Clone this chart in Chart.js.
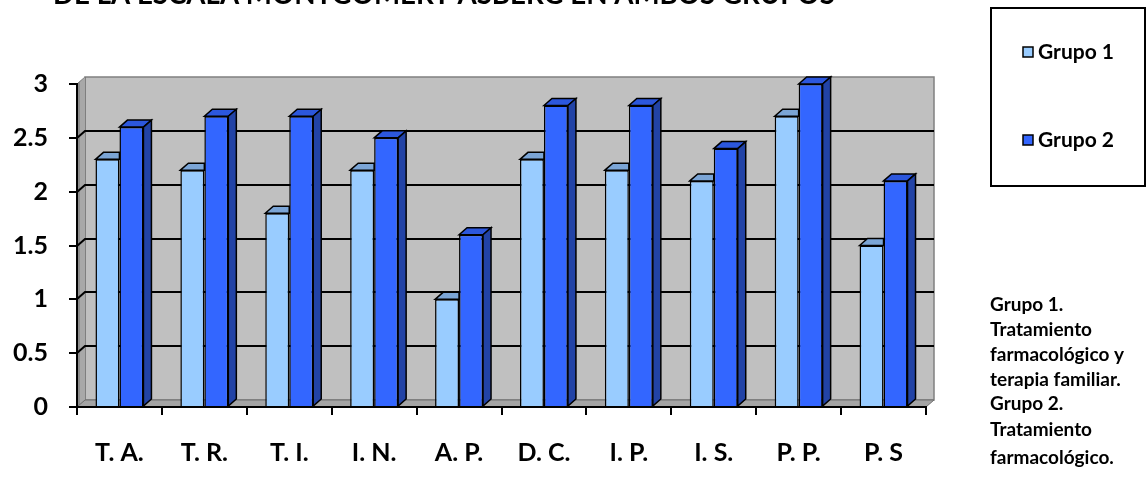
<!DOCTYPE html>
<html>
<head>
<meta charset="utf-8">
<script src="https://cdn.jsdelivr.net/npm/chart.js@4/dist/chart.umd.min.js"></script>
<style>
  html, body { margin: 0; padding: 0; background: #ffffff; }
  #wrap { width: 1146px; height: 477px; position: relative; }
  canvas { display: block; }
</style>
</head>
<body>
<div id="wrap"><canvas id="chart" width="1146" height="477"></canvas></div>
<script>
// Scores per item of the scale for both groups
const categories = ['T. A.', 'T. R.', 'T. I.', 'I. N.', 'A. P.', 'D. C.', 'I. P.', 'I. S.', 'P. P.', 'P. S'];
const grupo1 = [2.3, 2.2, 1.8, 2.2, 1.0, 2.3, 2.2, 2.1, 2.7, 1.5];
const grupo2 = [2.6, 2.7, 2.7, 2.5, 1.6, 2.8, 2.8, 2.4, 3.0, 2.1];
const seriesNames = ['Grupo 1', 'Grupo 2'];
const yTickValues = [0, 0.5, 1, 1.5, 2, 2.5, 3];
const yTickLabels = ['0', '0.5', '1', '1.5', '2', '2.5', '3'];
const titleText = 'DE LA ESCALA MONTGOMERY ASBERG EN AMBOS GRUPOS';
const noteLines = ['Grupo 1.', 'Tratamiento', 'farmacológico y', 'terapia familiar.', 'Grupo 2.', 'Tratamiento', 'farmacológico.'];

// depth of the pseudo-3D box
const DX = 8, DY = 7;
const FONT = 'Lato, "Open Sans", sans-serif';

const faceStyles = [
  { front: '#99CCFF', top: '#7BA5D6', side: '#6C95C8' },
  { front: '#3366FF', top: '#2C57DD', side: '#2243A6' }
];

function poly(ctx, pts, fill, stroke, lw) {
  ctx.beginPath();
  ctx.moveTo(pts[0][0], pts[0][1]);
  for (let i = 1; i < pts.length; i++) ctx.lineTo(pts[i][0], pts[i][1]);
  ctx.closePath();
  if (fill) { ctx.fillStyle = fill; ctx.fill(); }
  if (stroke) { ctx.strokeStyle = stroke; ctx.lineWidth = lw || 1; ctx.lineJoin = 'miter'; ctx.stroke(); }
}

// back wall, side wall, floor and gridlines behind the bars
const wallsPlugin = {
  id: 'walls',
  beforeDraw(chart) {
    const { ctx, chartArea: a, scales: { y } } = chart;
    const L = a.left, R = a.right, T = a.top, B = a.bottom;
    ctx.save();
    ctx.fillStyle = '#C0C0C0';
    ctx.fillRect(L + DX, T - DY, R - L, B - T);
    ctx.strokeStyle = '#808080';
    ctx.lineWidth = 1.5;
    ctx.strokeRect(L + DX, T - DY, R - L, B - T);
    poly(ctx, [[L, T], [L + DX, T - DY], [L + DX, B - DY], [L, B]], '#8C8C8C', '#6E6E6E', 1);
    poly(ctx, [[L + 3, T - 2], [L + DX, T - DY], [L + DX, B - DY], [L + 3, B - 3]], '#A8A8A8', null);
    poly(ctx, [[L, B], [L + DX, B - DY], [R + DX, B - DY], [R, B]], '#A4A4A4', '#6E6E6E', 1);
    ctx.strokeStyle = '#000000';
    ctx.lineWidth = 2;
    yTickValues.forEach(v => {
      if (v <= y.min || v >= y.max) return;
      const yy = Math.round(y.getPixelForValue(v));
      ctx.beginPath();
      ctx.moveTo(L, yy);
      ctx.lineTo(L + DX, yy - DY);
      ctx.lineTo(R + DX, yy - DY);
      ctx.stroke();
    });
    ctx.restore();
  }
};

// top and side faces of each bar; a face hidden behind a taller neighbour is cut at its front edge
const barDepthPlugin = {
  id: 'barDepth',
  afterDatasetDraw(chart, args) {
    const ctx = chart.ctx;
    const st = faceStyles[args.index];
    const nextMeta = chart.data.datasets[args.index + 1] ? chart.getDatasetMeta(args.index + 1) : null;
    ctx.save();
    args.meta.data.forEach((bar, j) => {
      const p = bar.getProps(['x', 'y', 'width', 'base'], true);
      const x0 = p.x - p.width / 2, x1 = p.x + p.width / 2;
      let hidden = false;
      if (nextMeta && nextMeta.data[j]) {
        const q = nextMeta.data[j].getProps(['y'], true);
        hidden = q.y <= p.y;
      }
      if (hidden) {
        poly(ctx, [[x0, p.y], [x0 + DX, p.y - DY], [x1, p.y - DY], [x1, p.y]], st.top, '#000', 1.5);
      } else {
        poly(ctx, [[x0, p.y], [x0 + DX, p.y - DY], [x1 + DX, p.y - DY], [x1, p.y]], st.top, '#000', 1.5);
        poly(ctx, [[x1, p.y], [x1 + DX, p.y - DY], [x1 + DX, p.base - DY], [x1, p.base]], st.side, '#000', 1.5);
      }
    });
    ctx.restore();
  }
};

// legend box, notes and the heading
const extrasPlugin = {
  id: 'extras',
  afterDraw(chart) {
    const ctx = chart.ctx;
    ctx.save();
    ctx.fillStyle = '#000';
    ctx.font = 'bold 100px ' + FONT;
    const w100 = ctx.measureText(titleText).width;
    const size = 100 * 782 / w100;
    ctx.font = 'bold ' + size.toFixed(2) + 'px ' + FONT;
    ctx.textBaseline = 'alphabetic';
    ctx.textAlign = 'left';
    ctx.fillText(titleText, 53, 4);

    ctx.strokeStyle = '#000';
    ctx.lineWidth = 2;
    ctx.strokeRect(991, 8, 154, 178);
    const rows = [52, 140];
    chart.data.datasets.forEach((ds, i) => {
      const cy = rows[i];
      ctx.fillStyle = ds.backgroundColor;
      ctx.fillRect(1023, cy - 5, 10, 10);
      ctx.lineWidth = 1.5;
      ctx.strokeRect(1023, cy - 5, 10, 10);
      ctx.fillStyle = '#000';
      ctx.font = 'bold 21px ' + FONT;
      ctx.textBaseline = 'alphabetic';
      ctx.fillText(ds.label, 1038, cy + 7);
    });

    ctx.font = 'bold 19px ' + FONT;
    const baselines = [311, 336, 361, 386, 410, 436, 464];
    noteLines.forEach((t, i) => ctx.fillText(t, 990, baselines[i]));
    ctx.restore();
  }
};

Chart.defaults.font.family = FONT;

new Chart(document.getElementById('chart'), {
  type: 'bar',
  data: {
    labels: categories,
    datasets: [
      { label: seriesNames[0], data: grupo1, backgroundColor: faceStyles[0].front, borderColor: '#000', borderWidth: 1.5 },
      { label: seriesNames[1], data: grupo2, backgroundColor: faceStyles[1].front, borderColor: '#000', borderWidth: 1.5 }
    ]
  },
  options: {
    responsive: false,
    devicePixelRatio: 1,
    animation: false,
    layout: { padding: { left: 0, right: 220, top: 84, bottom: 0 } },
    datasets: { bar: { categoryPercentage: 0.565, barPercentage: 1.0 } },
    plugins: { legend: { display: false }, tooltip: { enabled: false }, title: { display: false } },
    scales: {
      x: {
        offset: true,
        grid: { offset: true, drawOnChartArea: false, drawTicks: true, tickLength: 8, color: '#000', lineWidth: 2 },
        border: { display: true, color: '#000', width: 2 },
        ticks: { color: '#000', font: { family: FONT, weight: 'bold', size: 25 }, padding: 23, maxRotation: 0, autoSkip: false },
        afterFit(s) { s.height = 70; }
      },
      y: {
        min: 0,
        max: 3,
        grid: { drawOnChartArea: false, drawTicks: true, tickLength: 8, color: '#000', lineWidth: 2 },
        border: { display: true, color: '#000', width: 2 },
        ticks: {
          color: '#000',
          font: { family: FONT, weight: 'bold', size: 25 },
          padding: 21,
          callback: (v, i) => yTickLabels[i]
        },
        afterBuildTicks(s) { s.ticks = yTickValues.map(v => ({ value: v })); },
        afterFit(s) { s.width = 77; }
      }
    }
  },
  plugins: [wallsPlugin, barDepthPlugin, extrasPlugin]
});
</script>
</body>
</html>
